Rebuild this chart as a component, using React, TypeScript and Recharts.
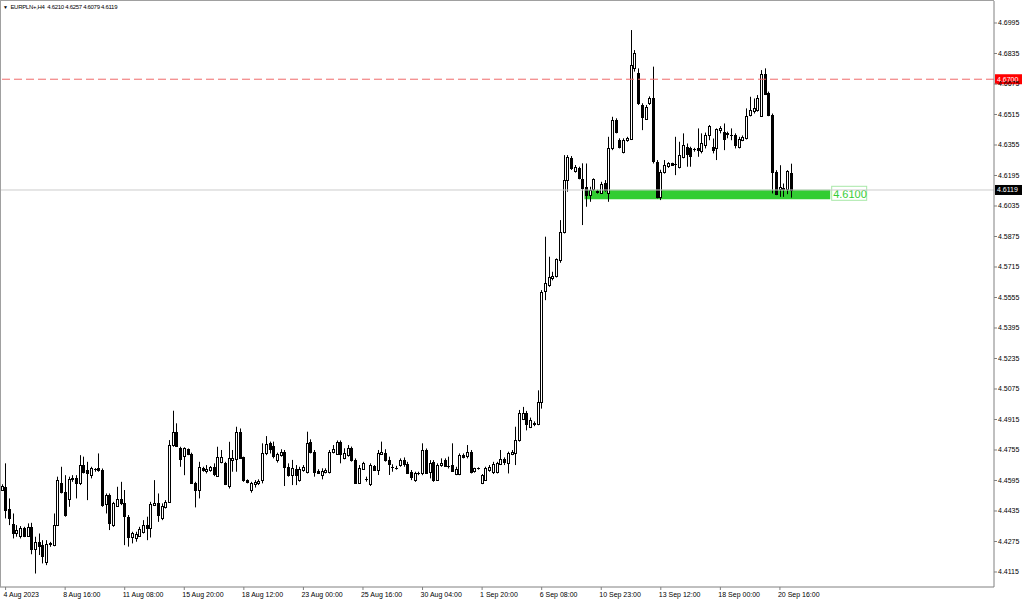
import { ComposedChart, Bar, XAxis, YAxis, ReferenceLine, ReferenceArea } from "recharts"

// EURPLN+ H4 candles, 3 Aug 20:00 .. 21 Sep 04:00
const opens = [
  4.4545, 4.4562, 4.4443, 4.4366, 4.4317, 4.4300, 4.4344, 4.4303, 4.4352, 4.4238,
  4.4273, 4.4256, 4.4169, 4.4261, 4.4256, 4.4361, 4.4583, 4.4536, 4.4496, 4.4601,
  4.4606, 4.4580, 4.4676, 4.4650, 4.4623, 4.4655, 4.4658, 4.4650, 4.4471, 4.4518,
  4.4361, 4.4461, 4.4496, 4.4475, 4.4405, 4.4300, 4.4291, 4.4308, 4.4326, 4.4361,
  4.4343, 4.4466, 4.4478, 4.4396, 4.4457, 4.4483, 4.4781, 4.4851, 4.4763, 4.4720,
  4.4758, 4.4734, 4.4580, 4.4541, 4.4658, 4.4641, 4.4646, 4.4664, 4.4618, 4.4688,
  4.4688, 4.4562, 4.4702, 4.4711, 4.4851, 4.4716, 4.4597, 4.4541, 4.4580, 4.4580,
  4.4593, 4.4740, 4.4790, 4.4775, 4.4699, 4.4729, 4.4746, 4.4667, 4.4624, 4.4654,
  4.4598, 4.4650, 4.4641, 4.4799, 4.4746, 4.4647, 4.4624, 4.4641, 4.4641, 4.4741,
  4.4737, 4.4799, 4.4711, 4.4729, 4.4764, 4.4703, 4.4580, 4.4654, 4.4603, 4.4577,
  4.4671, 4.4650, 4.4737, 4.4741, 4.4703, 4.4664, 4.4662, 4.4676, 4.4702, 4.4681,
  4.4641, 4.4597, 4.4632, 4.4632, 4.4755, 4.4636, 4.4693, 4.4597, 4.4676, 4.4702,
  4.4671, 4.4676, 4.4629, 4.4629, 4.4728, 4.4723, 4.4746, 4.4641, 4.4658, 4.4580,
  4.4597, 4.4650, 4.4641, 4.4636, 4.4681, 4.4706, 4.4685, 4.4737, 4.4741, 4.4807,
  4.4921, 4.4950, 4.4876, 4.4895, 4.4890, 4.5007, 4.5585, 4.5620, 4.5655, 4.5664,
  4.5755, 4.5900, 4.6171, 4.6285, 4.6220, 4.6232, 4.6175, 4.6136, 4.6092, 4.6122,
  4.6113, 4.6104, 4.6157, 4.6101, 4.6337, 4.6486, 4.6381, 4.6320, 4.6381, 4.6385,
  4.6758, 4.6731, 4.6565, 4.6495, 4.6574, 4.6600, 4.6267, 4.6083, 4.6215, 4.6241,
  4.6258, 4.6255, 4.6241, 4.6293, 4.6346, 4.6337, 4.6330, 4.6337, 4.6320, 4.6355,
  4.6407, 4.6346, 4.6337, 4.6433, 4.6424, 4.6411, 4.6407, 4.6407, 4.6346, 4.6384,
  4.6394, 4.6512, 4.6529, 4.6538, 4.6512, 4.6730, 4.6626, 4.6512, 4.6214, 4.6127,
  4.6127, 4.6127, 4.6210,
]

const highs = [
  4.4575, 4.4685, 4.4501, 4.4422, 4.4361, 4.4356, 4.4352, 4.4370, 4.4373, 4.4300,
  4.4317, 4.4282, 4.4282, 4.4273, 4.4422, 4.4615, 4.4667, 4.4623, 4.4615, 4.4623,
  4.4623, 4.4728, 4.4720, 4.4693, 4.4667, 4.4660, 4.4737, 4.4658, 4.4527, 4.4527,
  4.4483, 4.4562, 4.4588, 4.4545, 4.4414, 4.4326, 4.4326, 4.4352, 4.4387, 4.4405,
  4.4483, 4.4597, 4.4527, 4.4475, 4.4492, 4.4807, 4.4961, 4.4895, 4.4772, 4.4769,
  4.4763, 4.4741, 4.4588, 4.4693, 4.4667, 4.4676, 4.4671, 4.4685, 4.4772, 4.4755,
  4.4693, 4.4798, 4.4755, 4.4877, 4.4868, 4.4720, 4.4601, 4.4588, 4.4597, 4.4601,
  4.4790, 4.4828, 4.4799, 4.4799, 4.4741, 4.4759, 4.4755, 4.4685, 4.4703, 4.4676,
  4.4667, 4.4676, 4.4851, 4.4811, 4.4755, 4.4654, 4.4659, 4.4659, 4.4755, 4.4781,
  4.4805, 4.4805, 4.4764, 4.4781, 4.4773, 4.4711, 4.4676, 4.4693, 4.4615, 4.4685,
  4.4676, 4.4755, 4.4799, 4.4759, 4.4720, 4.4680, 4.4672, 4.4711, 4.4716, 4.4693,
  4.4650, 4.4641, 4.4641, 4.4790, 4.4763, 4.4702, 4.4702, 4.4685, 4.4711, 4.4711,
  4.4720, 4.4790, 4.4667, 4.4737, 4.4737, 4.4781, 4.4755, 4.4662, 4.4664, 4.4629,
  4.4667, 4.4676, 4.4693, 4.4693, 4.4755, 4.4716, 4.4746, 4.4755, 4.4877, 4.4965,
  4.4981, 4.4960, 4.4925, 4.4905, 4.5068, 4.5594, 4.5874, 4.5769, 4.5690, 4.5760,
  4.5961, 4.6302, 4.6302, 4.6297, 4.6250, 4.6241, 4.6259, 4.6258, 4.6136, 4.6180,
  4.6120, 4.6162, 4.6171, 4.6398, 4.6503, 4.6495, 4.6390, 4.6390, 4.6398, 4.6958,
  4.6853, 4.6757, 4.6574, 4.6565, 4.6610, 4.6766, 4.6276, 4.6225, 4.6276, 4.6265,
  4.6262, 4.6398, 4.6372, 4.6416, 4.6363, 4.6346, 4.6340, 4.6442, 4.6416, 4.6420,
  4.6460, 4.6389, 4.6442, 4.6454, 4.6468, 4.6425, 4.6442, 4.6416, 4.6398, 4.6405,
  4.6547, 4.6608, 4.6599, 4.6617, 4.6748, 4.6757, 4.6635, 4.6520, 4.6223, 4.6249,
  4.6153, 4.6223, 4.6257,
]

const lows = [
  4.4540, 4.4396, 4.4361, 4.4291, 4.4300, 4.4291, 4.4298, 4.4300, 4.4208, 4.4107,
  4.4204, 4.4160, 4.4151, 4.4247, 4.4250, 4.4356, 4.4527, 4.4405, 4.4457, 4.4588,
  4.4501, 4.4571, 4.4632, 4.4492, 4.4606, 4.4641, 4.4641, 4.4457, 4.4422, 4.4335,
  4.4352, 4.4457, 4.4466, 4.4256, 4.4248, 4.4265, 4.4274, 4.4300, 4.4317, 4.4282,
  4.4296, 4.4461, 4.4378, 4.4387, 4.4448, 4.4478, 4.4772, 4.4772, 4.4667, 4.4623,
  4.4728, 4.4578, 4.4454, 4.4501, 4.4641, 4.4632, 4.4641, 4.4618, 4.4615, 4.4685,
  4.4571, 4.4553, 4.4641, 4.4641, 4.4711, 4.4588, 4.4580, 4.4531, 4.4558, 4.4571,
  4.4580, 4.4728, 4.4737, 4.4711, 4.4689, 4.4720, 4.4566, 4.4615, 4.4571, 4.4571,
  4.4589, 4.4641, 4.4632, 4.4737, 4.4615, 4.4629, 4.4601, 4.4632, 4.4632, 4.4737,
  4.4729, 4.4685, 4.4706, 4.4720, 4.4694, 4.4580, 4.4577, 4.4650, 4.4589, 4.4566,
  4.4646, 4.4624, 4.4729, 4.4694, 4.4624, 4.4641, 4.4652, 4.4667, 4.4667, 4.4629,
  4.4597, 4.4588, 4.4623, 4.4623, 4.4629, 4.4606, 4.4588, 4.4593, 4.4667, 4.4667,
  4.4658, 4.4641, 4.4623, 4.4623, 4.4711, 4.4711, 4.4632, 4.4636, 4.4652, 4.4576,
  4.4593, 4.4641, 4.4629, 4.4632, 4.4676, 4.4676, 4.4632, 4.4728, 4.4676, 4.4799,
  4.4912, 4.4858, 4.4870, 4.4880, 4.4885, 4.4972, 4.5541, 4.5611, 4.5645, 4.5660,
  4.5737, 4.5891, 4.6110, 4.6224, 4.6210, 4.6175, 4.5935, 4.6031, 4.6057, 4.6115,
  4.6100, 4.6098, 4.6110, 4.6057, 4.6328, 4.6416, 4.6337, 4.6311, 4.6372, 4.6381,
  4.6740, 4.6565, 4.6433, 4.6486, 4.6565, 4.6258, 4.6075, 4.6066, 4.6205, 4.6235,
  4.6245, 4.6197, 4.6232, 4.6285, 4.6241, 4.6241, 4.6320, 4.6293, 4.6311, 4.6337,
  4.6380, 4.6311, 4.6276, 4.6416, 4.6328, 4.6390, 4.6380, 4.6337, 4.6337, 4.6375,
  4.6384, 4.6505, 4.6520, 4.6530, 4.6506, 4.6617, 4.6506, 4.6101, 4.6092, 4.6083,
  4.6083, 4.6097, 4.6079,
]

const closes = [
  4.4566, 4.4443, 4.4396, 4.4317, 4.4335, 4.4344, 4.4303, 4.4352, 4.4238, 4.4273,
  4.4252, 4.4198, 4.4261, 4.4265, 4.4361, 4.4597, 4.4536, 4.4414, 4.4601, 4.4606,
  4.4580, 4.4676, 4.4641, 4.4636, 4.4658, 4.4656, 4.4650, 4.4466, 4.4518, 4.4370,
  4.4475, 4.4496, 4.4475, 4.4405, 4.4300, 4.4321, 4.4314, 4.4343, 4.4361, 4.4343,
  4.4471, 4.4478, 4.4413, 4.4461, 4.4483, 4.4781, 4.4851, 4.4776, 4.4706, 4.4763,
  4.4734, 4.4580, 4.4541, 4.4664, 4.4646, 4.4653, 4.4664, 4.4629, 4.4720, 4.4716,
  4.4580, 4.4711, 4.4711, 4.4851, 4.4716, 4.4597, 4.4588, 4.4580, 4.4588, 4.4593,
  4.4737, 4.4785, 4.4760, 4.4720, 4.4732, 4.4746, 4.4667, 4.4624, 4.4659, 4.4624,
  4.4654, 4.4664, 4.4794, 4.4746, 4.4641, 4.4636, 4.4647, 4.4650, 4.4746, 4.4759,
  4.4799, 4.4737, 4.4737, 4.4764, 4.4703, 4.4584, 4.4659, 4.4685, 4.4605, 4.4676,
  4.4650, 4.4741, 4.4746, 4.4703, 4.4682, 4.4662, 4.4660, 4.4702, 4.4681, 4.4636,
  4.4615, 4.4632, 4.4634, 4.4755, 4.4636, 4.4685, 4.4597, 4.4676, 4.4688, 4.4671,
  4.4672, 4.4646, 4.4653, 4.4728, 4.4720, 4.4746, 4.4641, 4.4658, 4.4659, 4.4623,
  4.4658, 4.4667, 4.4681, 4.4685, 4.4706, 4.4688, 4.4737, 4.4746, 4.4807, 4.4947,
  4.4950, 4.4890, 4.4914, 4.4888, 4.5007, 4.5585, 4.5629, 4.5664, 4.5667, 4.5755,
  4.5900, 4.6171, 4.6294, 4.6232, 4.6241, 4.6180, 4.6130, 4.6092, 4.6118, 4.6175,
  4.6106, 4.6153, 4.6118, 4.6337, 4.6486, 4.6425, 4.6346, 4.6381, 4.6390, 4.6775,
  4.6836, 4.6574, 4.6504, 4.6556, 4.6600, 4.6267, 4.6083, 4.6215, 4.6250, 4.6258,
  4.6250, 4.6256, 4.6302, 4.6355, 4.6311, 4.6293, 4.6332, 4.6328, 4.6363, 4.6407,
  4.6455, 4.6328, 4.6437, 4.6442, 4.6389, 4.6416, 4.6408, 4.6354, 4.6389, 4.6398,
  4.6507, 4.6538, 4.6547, 4.6599, 4.6730, 4.6626, 4.6512, 4.6214, 4.6101, 4.6136,
  4.6122, 4.6220, 4.6119,
]

// time labels shown on the x axis (every 16th bar)
const tickIdx = [1, 17, 33, 49, 65, 81, 97, 113, 129, 145, 161, 177, 193, 209]
const tickLabels = [
  "4 Aug 2023", "8 Aug 16:00", "11 Aug 08:00", "15 Aug 20:00", "18 Aug 12:00",
  "23 Aug 00:00", "25 Aug 16:00", "30 Aug 04:00", "1 Sep 20:00", "6 Sep 08:00",
  "10 Sep 23:00", "13 Sep 12:00", "18 Sep 00:00", "20 Sep 16:00",
]

const priceTicks = [
  4.4115, 4.4275, 4.4435, 4.4595, 4.4755, 4.4915, 4.5075, 4.5235, 4.5395, 4.5555,
  4.5715, 4.5875, 4.6035, 4.6195, 4.6355, 4.6515, 4.6675, 4.6835, 4.6995,
]

const symbol = "EURPLN+,H4"
const alertLevel = 4.67
const zoneLow = 4.607
const zoneHigh = 4.612
const zoneText = "4.6100"
const zoneStart = 157
const zoneEnd = 222

const SLOTS = 267 // includes empty space right of the last bar
const Y_MIN = 4.40363
const Y_MAX = 4.71104
const FONT = "'Liberation Sans', Arial, sans-serif"

const data = Array.from({ length: SLOTS }, (_, i) =>
  i < opens.length
    ? { i, o: opens[i], h: highs[i], l: lows[i], c: closes[i] }
    : { i, o: null, h: null, l: null, c: null }
)

const last = opens.length - 1
const lastClose = closes[last]

function Candle(props: any) {
  const { x, y, width, height, payload } = props
  if (payload.h == null) return null
  const k = payload.h === payload.l ? 0 : height / (payload.h - payload.l)
  const cx = Math.round(x + width / 2) + 0.5
  const yo = y + (payload.h - payload.o) * k
  const yc = y + (payload.h - payload.c) * k
  const top = Math.round(Math.min(yo, yc)) + 0.5
  const bh = Math.max(Math.round(Math.abs(yo - yc)), 0)
  const bull = payload.c >= payload.o
  return (
    <g>
      <line x1={cx} x2={cx} y1={y} y2={y + height} stroke="#000" strokeWidth={1} />
      {bh < 1 ? (
        <line x1={cx - 1.5} x2={cx + 1.5} y1={top} y2={top} stroke="#000" strokeWidth={1} />
      ) : (
        <rect x={cx - 1} y={top} width={2} height={bh} fill={bull ? "#fff" : "#000"} stroke="#000" strokeWidth={1} />
      )}
    </g>
  )
}

function XTick(props: any) {
  const { x, y, payload } = props
  const n = tickIdx.indexOf(payload.value)
  return (
    <g>
      <line x1={x} x2={x} y1={y} y2={y + 3} stroke="#808080" />
      <text x={x - 2} y={y + 10} fontSize={7} fontFamily={FONT} fill="#000" textAnchor="start">
        {n >= 0 ? tickLabels[n] : ""}
      </text>
    </g>
  )
}

function YTick(props: any) {
  const { x, y, payload } = props
  return (
    <g>
      <line x1={x} x2={x + 3} y1={y} y2={y} stroke="#808080" />
      <text x={x + 4} y={y + 2.5} fontSize={7} fontFamily={FONT} fill="#000" textAnchor="start">
        {Number(payload.value).toFixed(4)}
      </text>
    </g>
  )
}

function PriceTag(props: any) {
  const { viewBox, text, bg } = props
  if (!viewBox) return null
  const x = viewBox.x + viewBox.width + 1
  const y = viewBox.y
  return (
    <g>
      <rect x={x} y={y - 5} width={27} height={10} fill={bg} />
      <text x={x + 2} y={y + 2.5} fontSize={7} fontFamily={FONT} fill="#fff">
        {text}
      </text>
    </g>
  )
}

function ZoneTag(props: any) {
  const { viewBox } = props
  if (!viewBox) return null
  const x = viewBox.x + viewBox.width + 1
  const y = viewBox.y
  return (
    <g>
      <rect x={x + 0.5} y={y - 3.5} width={35} height={14} fill="none" stroke="#a8e8a8" />
      <text x={x + 2} y={y + 8} fontSize={11} fontFamily={FONT} fill="#32cd32">
        {zoneText}
      </text>
    </g>
  )
}

export default function App() {
  return (
    <div style={{ position: "absolute", left: 0, top: 0, width: 1024, height: 600, background: "#fff" }}>
      <ComposedChart width={1024} height={600} data={data} margin={{ top: 1, right: 0, bottom: 0, left: 0 }}>
        <XAxis
          dataKey="i"
          type="category"
          ticks={tickIdx}
          interval={0}
          height={13}
          tickSize={0}
          tickMargin={0}
          tickLine={false}
          axisLine={{ stroke: "#808080" }}
          tick={XTick}
        />
        <YAxis
          orientation="right"
          type="number"
          domain={[Y_MIN, Y_MAX]}
          allowDataOverflow
          ticks={priceTicks}
          interval={0}
          width={30}
          tickSize={0}
          tickMargin={0}
          tickLine={false}
          axisLine={{ stroke: "#808080" }}
          tick={YTick}
        />
        <ReferenceArea
          x1={zoneStart}
          x2={zoneEnd}
          y1={zoneLow}
          y2={zoneHigh}
          fill="#32cd32"
          fillOpacity={1}
          stroke="none"
          label={<ZoneTag />}
        />
        <ReferenceLine
          y={alertLevel}
          stroke="#f06a6a"
          strokeDasharray="8 4"
          label={<PriceTag text={alertLevel.toFixed(4)} bg="#ff0000" />}
        />
        <ReferenceLine
          y={lastClose}
          stroke="#cccccc"
          label={<PriceTag text={lastClose.toFixed(4)} bg="#000" />}
        />
        <Bar
          dataKey={(d: any) => (d.h == null ? null : [d.l, d.h])}
          shape={Candle}
          barSize={3}
          isAnimationActive={false}
        />
      </ComposedChart>
      <div
        style={{
          position: "absolute",
          left: 0,
          top: 0,
          width: 994,
          height: 587,
          borderLeft: "1px solid #a0a0a0",
          borderTop: "1px solid #a0a0a0",
          boxSizing: "border-box",
          pointerEvents: "none",
        }}
      />
      <div
        style={{
          position: "absolute",
          left: 3,
          top: 3,
          fontFamily: FONT,
          fontSize: 6,
          letterSpacing: "-0.3px",
          color: "#000",
          whiteSpace: "pre",
          lineHeight: "8px",
        }}
      >
        <span style={{ fontSize: 5 }}>▼</span>
        {"  " + symbol + "  " + [opens[last], highs[last], lows[last], closes[last]].map((v) => v.toFixed(4)).join(" ")}
      </div>
    </div>
  )
}
